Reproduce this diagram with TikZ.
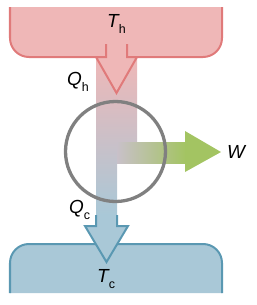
\documentclass[tikz,border=0pt]{standalone}
\usepackage{fontspec}
\setmainfont{Liberation Sans}
\newcommand{\quantity}[2]{{\itshape #1}\raisebox{-6bp}{\fontsize{12.5}{13}\selectfont #2}}
\begin{document}
\begin{tikzpicture}[x=1bp, y=-1bp, font=\fontsize{19}{22}\selectfont,
    qtext/.style={anchor=base west, inner sep=0pt}]

    % Colori dei serbatoi e del lavoro
    \definecolor{hotfill}{RGB}{239,183,183}
    \definecolor{hotline}{RGB}{224,122,122}
    \definecolor{coldfill}{RGB}{169,200,215}
    \definecolor{coldline}{RGB}{90,152,178}
    \definecolor{workgreen}{RGB}{163,196,98}
    \definecolor{ringgray}{RGB}{128,128,128}
    \colorlet{mixed}{hotfill!45!coldfill}

    \useasboundingbox (0,0) rectangle (257,305);

    % Serbatoio caldo (in alto) e freddo (in basso)
    \filldraw[fill=hotfill, draw=hotline, line width=2bp, rounded corners=19] (10,7) -- (10,57) -- (222,57) -- (222,7);
    \filldraw[fill=coldfill, draw=coldline, line width=2bp, rounded corners=19] (10,293) -- (10,244) -- (222,244) -- (222,293);

    % Flusso di calore con sfumatura
    \shade[top color=hotfill, bottom color=coldfill] (96,57) -- (137,57) -- (137,142) -- (117,142) -- (117,215) -- (96,215) -- cycle;
    \shade[left color=mixed, middle color=mixed!40!workgreen, right color=workgreen] (117,142) rectangle (186,163);
    \fill[workgreen] (185,131) -- (221,152) -- (185,172) -- cycle;

    % Frecce Q_h e Q_c
    \filldraw[fill=hotfill, draw=hotline, line width=2bp] (106,44) -- (106,57) -- (96,57) -- (116.5,93) -- (137,57) -- (127,57) -- (127,44);
    \filldraw[fill=coldfill, draw=coldline, line width=2bp] (96,215) -- (96,226) -- (85,226) -- (106.5,262) -- (128,226) -- (117,226) -- (117,215);

    % Macchina
    \draw[ringgray, line width=3.3bp] (115.5,151.5) circle[radius=50];

    % Etichette
    \node[qtext] (Th) at (107,27) {\quantity{T}{h}};
    \node[qtext] (Qh) at (67,85) {\quantity{Q}{h}};
    \node[qtext] (W) at (227,158) {\itshape W};
    \node[qtext] (Qc) at (69,213) {\quantity{Q}{c}};
    \node[qtext] (Tc) at (97,282) {\quantity{T}{c}};

\end{tikzpicture}
\end{document}
